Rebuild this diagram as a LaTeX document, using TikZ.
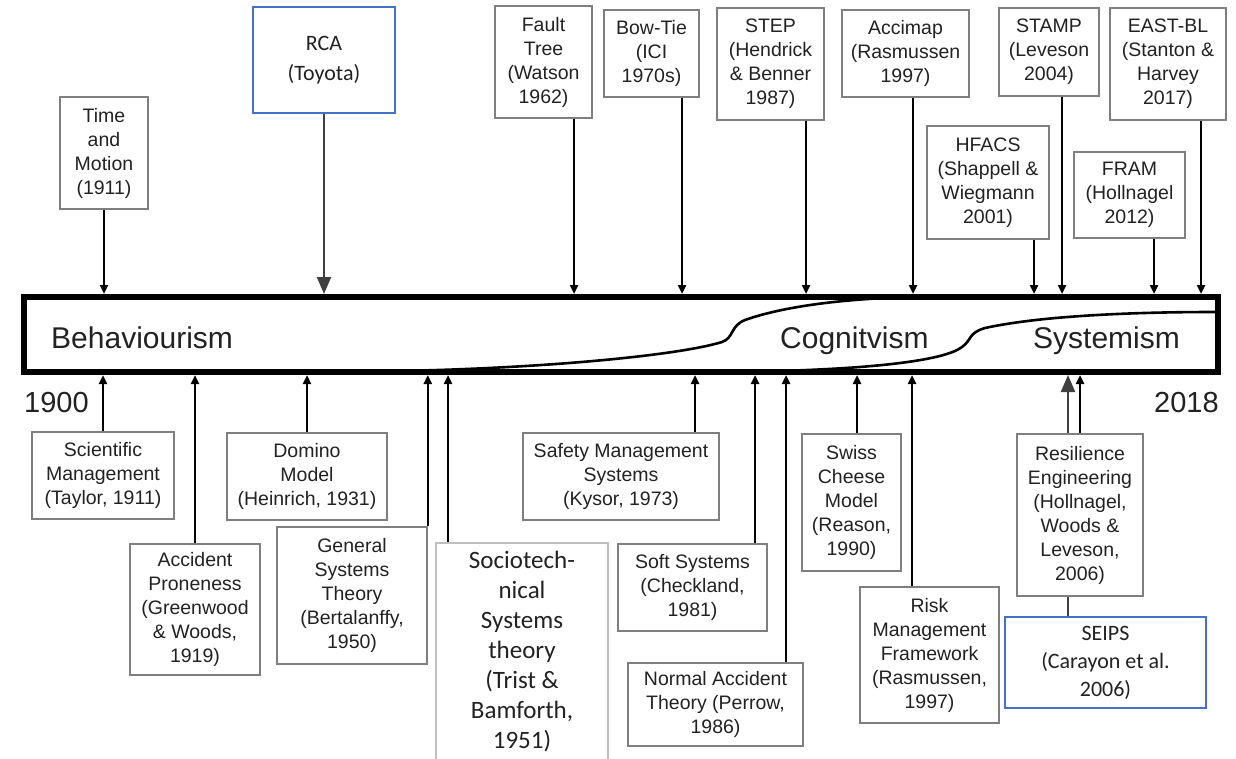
\documentclass[tikz,border=0pt]{standalone}
\usepackage{fontspec}
\setmainfont{Liberation Sans}
\newfontfamily\calib{Carlito}
\usetikzlibrary{arrows.meta}
\definecolor{boxgray}{HTML}{7F7F7F}
\definecolor{lightbox}{HTML}{BFBFBF}
\definecolor{blueb}{HTML}{4472C4}
\definecolor{txt}{HTML}{222222}
\definecolor{darkarr}{HTML}{404040}
\begin{document}
\begin{tikzpicture}[x=1pt,y=-1pt,
  box/.style={draw=boxgray, line width=1.6pt, fill=white, align=center, inner sep=0pt, text=txt,
    font=\fontsize{19.5}{24}\selectfont},
  bluebox/.style={box, draw=blueb, line width=2pt, font=\calib\fontsize{22}{30}\selectfont},
  sttbox/.style={box, draw=lightbox, font=\calib\fontsize{25}{30}\selectfont},
  arr/.style={line width=2.4pt, -{Triangle[length=9pt,width=8pt]}},
  bigarr/.style={color=darkarr, line width=2.2pt, -{Triangle[length=17pt,width=14pt]}},
  era/.style={font=\fontsize{30}{36}\selectfont, text=txt, inner sep=0pt, anchor=base west},
  yr/.style={font=\fontsize{29}{34}\selectfont, text=txt, inner sep=0pt, anchor=base west},
  timeband/.style={draw=black, line width=6pt, minimum width=1194pt, minimum height=75pt, inner sep=0pt},
  curve/.style={line width=2.6pt}
]
\useasboundingbox (0,0) rectangle (1236,759);
\clip (0,0) rectangle (1236,759);
\fill[white] (0,0) rectangle (1236,759);

% time band
\node[timeband] (band) at (621,334.5) {};
\draw[curve] (400,371) .. controls (550,368) and (680,355) .. (722,342)
  .. controls (734,338) and (730,326) .. (745,320)
  .. controls (790,304) and (860,298) .. (915,297);
\draw[curve] (780,371) .. controls (880,368) and (945,360) .. (962,347)
  .. controls (972,340) and (968,333) .. (985,328)
  .. controls (1040,316) and (1130,312) .. (1215,312);

\node[era] (beh) at (51,348) {Behaviourism};
\node[era] (cog) at (780,348) {Cognitvism};
\node[era] (sys) at (1033,348) {Systemism};
\node[yr] (y1900) at (24,412) {1900};
\node[yr] (y2018) at (1154,412) {2018};

% top boxes
\node[box, minimum width=88pt, minimum height=112pt] (tm) at (104,153) {Time\\and\\Motion\\(1911)};
\node[bluebox, minimum width=142pt, minimum height=106pt] (rca) at (324,60) {RCA\\(Toyota)};
\node[box, minimum width=97pt, minimum height=112pt] (ft) at (543.5,62) {Fault\\Tree\\(Watson\\1962)};
\node[box, minimum width=95pt, minimum height=87pt] (bt) at (651.5,53.5) {Bow-Tie\\(ICI\\1970s)};
\node[box, minimum width=107pt, minimum height=112pt] (stp) at (770.5,64) {STEP\\(Hendrick\\\& Benner\\1987)};
\node[box, minimum width=127pt, minimum height=87pt] (acc) at (905.5,53.5) {Accimap\\(Rasmussen\\1997)};
\node[box, minimum width=122pt, minimum height=113pt] (hf) at (988,182.5) {HFACS\\(Shappell \&\\Wiegmann\\2001)};
\node[box, minimum width=100pt, minimum height=88pt] (stamp) at (1049,52) {STAMP\\(Leveson\\2004)};
\node[box, minimum width=116pt, minimum height=112pt] (east) at (1168,64) {EAST-BL\\(Stanton \&\\Harvey\\2017)};
\node[box, minimum width=111pt, minimum height=86pt] (fram) at (1129.5,195) {FRAM\\(Hollnagel\\2012)};

\draw[arr] (tm.south) -- (tm.south |- band.north);
\draw[bigarr] (rca.south) -- (rca.south |- band.north);
\draw[arr] ([xshift=30.5pt]ft.south) -- ([xshift=30.5pt]ft.south |- band.north);
\draw[arr] ([xshift=30.5pt]bt.south) -- ([xshift=30.5pt]bt.south |- band.north);
\draw[arr] ([xshift=35.5pt]stp.south) -- ([xshift=35.5pt]stp.south |- band.north);
\draw[arr] ([xshift=7.5pt]acc.south) -- ([xshift=7.5pt]acc.south |- band.north);
\draw[arr] ([xshift=46pt]hf.south) -- ([xshift=46pt]hf.south |- band.north);
\draw[arr] ([xshift=13pt]stamp.south) -- ([xshift=13pt]stamp.south |- band.north);
\draw[arr] ([xshift=33pt]east.south) -- ([xshift=33pt]east.south |- band.north);
\draw[arr] ([xshift=24.5pt]fram.south) -- ([xshift=24.5pt]fram.south |- band.north);

% bottom boxes
\node[box, minimum width=142pt, minimum height=87pt] (sm) at (103,475.5) {Scientific\\Management\\(Taylor, 1911)};
\node[box, minimum width=130pt, minimum height=131pt] (ap) at (195,609.5) {Accident\\Proneness\\(Greenwood\\\& Woods,\\1919)};
\node[box, minimum width=160pt, minimum height=87pt] (dm) at (307,476.5) {Domino\\Model\\(Heinrich, 1931)};
\node[box, minimum width=150pt, minimum height=137pt] (gst) at (352,595.5) {General\\Systems\\Theory\\(Bertalanffy,\\1950)};
\node[sttbox, minimum width=172pt, minimum height=218pt] (stt) at (522,652) {Sociotech-\\nical\\Systems\\theory\\(Trist \&\\Bamforth,\\1951)};
\node[box, minimum width=196pt, minimum height=87pt] (sms) at (621,476.5) {Safety Management\\Systems\\(Kysor, 1973)};
\node[box, minimum width=149pt, minimum height=87pt] (ss) at (692.5,587.5) {Soft Systems\\(Checkland,\\1981)};
\node[box, minimum width=175pt, minimum height=83pt] (nat) at (715.5,704.5) {Normal Accident\\Theory (Perrow,\\1986)};
\node[box, minimum width=99pt, minimum height=137pt] (scm) at (851.5,502.5) {Swiss\\Cheese\\Model\\(Reason,\\1990)};
\node[box, minimum width=139pt, minimum height=136pt] (rmf) at (929.5,655) {Risk\\Management\\Framework\\(Rasmussen,\\1997)};
\node[bluebox, minimum width=201pt, minimum height=91pt, font=\calib\fontsize{22}{28}\selectfont] (seips) at (1105.5,662.5) {SEIPS\\(Carayon et al.\\2006)};

\draw[arr] (sm.north) -- (sm.north |- band.south);
\draw[arr] (ap.north) -- (ap.north |- band.south);
\draw[arr] (dm.north) -- (dm.north |- band.south);
\draw[arr] (gst.north east) -- (gst.north east |- band.south);
\draw[arr] ([xshift=-74pt]stt.north) -- ([xshift=-74pt]stt.north |- band.south);
\draw[arr] ([xshift=74pt]sms.north) -- ([xshift=74pt]sms.north |- band.south);
\draw[arr] ([xshift=62.5pt]ss.north) -- ([xshift=62.5pt]ss.north |- band.south);
\draw[arr] ([xshift=70.5pt]nat.north) -- ([xshift=70.5pt]nat.north |- band.south);
\draw[arr] ([xshift=5.5pt]scm.north) -- ([xshift=5.5pt]scm.north |- band.south);
\draw[arr] ([xshift=-17.5pt]rmf.north) -- ([xshift=-17.5pt]rmf.north |- band.south);
\draw[bigarr] ([xshift=-37.5pt]seips.north) -- ([xshift=-37.5pt]seips.north |- band.south);

\node[box, minimum width=126pt, minimum height=162pt] (re) at (1080,515) {Resilience\\Engineering\\(Hollnagel,\\Woods \&\\Leveson,\\2006)};
\draw[arr] (re.north) -- (re.north |- band.south);
\end{tikzpicture}
\end{document}
